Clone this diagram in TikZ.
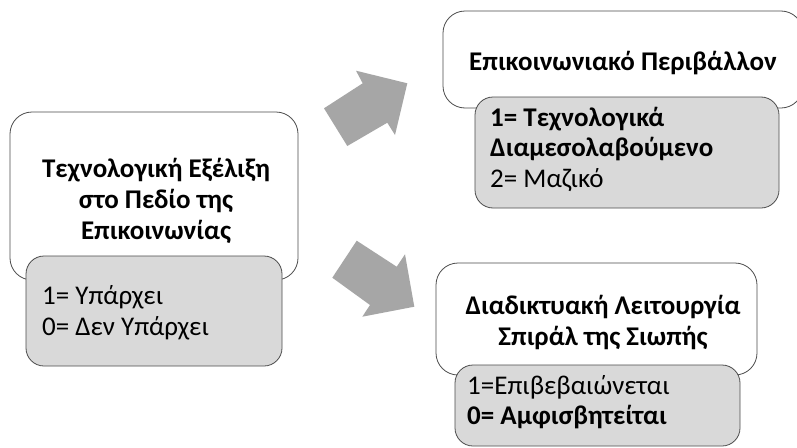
\documentclass[tikz,border=0pt]{standalone}
\usepackage{fontspec}
\setmainfont{Carlito}
\begin{document}
\begin{tikzpicture}[x=1pt,y=-1pt,
  whitebox/.style={draw=black!70, line width=0.8pt, fill=white, rounded corners=22pt, inner sep=0pt},
  graybox/.style={draw=black!70, line width=0.8pt, fill=black!15, rounded corners=18pt, inner sep=0pt},
  headtxt/.style={font=\fontsize{27}{31}\selectfont\bfseries, align=center, inner sep=0pt},
  valtxt/.style={font=\fontsize{27}{30.5}\selectfont, align=left, inner sep=0pt, anchor=west},
  bigarrow/.style={fill=black!35, draw=none}]
\useasboundingbox (0,0) rectangle (797,447);
\fill[white] (0,0) rectangle (797,447);
% left group
\node[whitebox, minimum width=288pt, minimum height=168pt] (lw) at (154,196) {};
\node[graybox, minimum width=256pt, minimum height=110pt] (lg) at (154,311) {};
\node[headtxt] (lt) at (156,201) {Τεχνολογική Εξέλιξη\\στο Πεδίο της\\Επικοινωνίας};
\node[valtxt] (lv) at (42,313) {1= Υπάρχει\\0= Δεν Υπάρχει};
% top right group
\node[whitebox, minimum width=360pt, minimum height=97pt] (tw) at (623,59.5) {};
\node[graybox, minimum width=304pt, minimum height=111pt] (tg) at (627,152.5) {};
\node[headtxt] (tt) at (623,63) {Επικοινωνιακό Περιβάλλον};
\node[valtxt] (tv) at (490,149) {\textbf{1= Τεχνολογικά}\\\textbf{Διαμεσολαβούμενο}\\2= Μαζικό};
% bottom right group
\node[whitebox, minimum width=321pt, minimum height=112pt] (bw) at (596.5,319) {};
\node[graybox, minimum width=285pt, minimum height=81pt] (bg) at (597.5,405.5) {};
\node[headtxt] (bt) at (603,322.5) {Διαδικτυακή Λειτουργία\\Σπιράλ της Σιωπής};
\node[valtxt] (bv) at (467,402) {1=Επιβεβαιώνεται\\\textbf{0= Αμφισβητείται}};
% arrows
\fill[bigarrow] (324,108.3) -- (362.7,83.3) -- (356,70.7) -- (407.3,83.3) -- (395,135) -- (387.3,122.7) -- (347.3,146) -- cycle;
\fill[bigarrow] (356.7,240.7) -- (396.7,266.7) -- (405,254.3) -- (414.3,306.7) -- (362.3,316.7) -- (370,305) -- (332.3,277.7) -- cycle;
\end{tikzpicture}
\end{document}
